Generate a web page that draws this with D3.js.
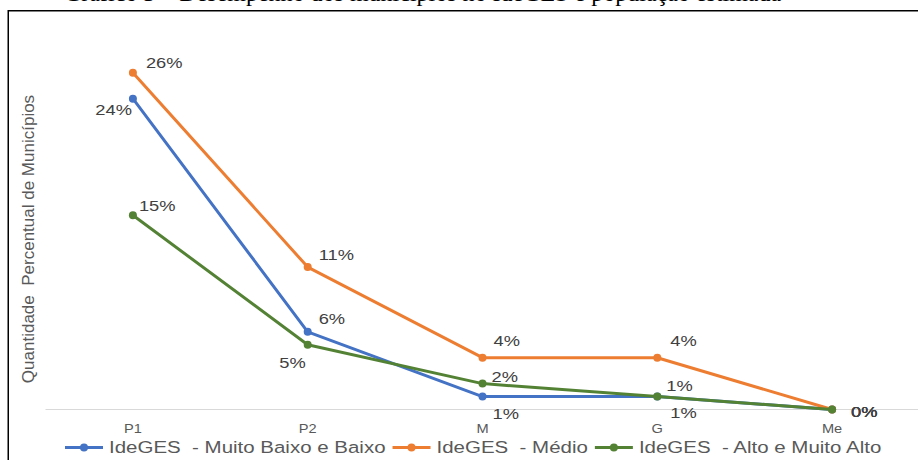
<!DOCTYPE html>
<html>
<head>
<meta charset="utf-8">
<script src="https://cdn.jsdelivr.net/npm/d3@7"></script>
<style>
  body { margin: 0; background: #fff; }
  svg { display: block; }
</style>
</head>
<body>
<svg id="chart" width="918" height="460"></svg>
<script>
// ---- data -------------------------------------------------------------
const categories = ["P1", "P2", "M", "G", "Me"];
const seriesNames = [
  "IdeGES  - Muito Baixo e Baixo",
  "IdeGES  - Médio",
  "IdeGES  - Alto e Muito Alto"
];
const muitoBaixoBaixo = [24, 6, 1, 1, 0];
const medio = [26, 11, 4, 4, 0];
const altoMuitoAlto = [15, 5, 2, 1, 0];
const yDomain = [0, 30];
const titleText = "Gráfico 3 – Desempenho dos municípios no IdeGES e população estimada";
const yTitleText = "Quantidade  Percentual de Municípios";

// ---- style ------------------------------------------------------------
const colors = ["#4472C4", "#ED7D31", "#548235"];
const SX = 1.22;                 // horizontal stretch of the sans text
const sans = "'Liberation Sans', Arial, sans-serif";
// per-point label nudges: [dx, dy, anchor]
const labelNudges = [
  [[-1, 16, "end"], [11, -8, "start"], [10, 22, "start"], [13, 21, "start"], [19, 7, "start"]],
  [[13, -5, "start"], [11, -7, "start"], [11, -12, "start"], [13, -12, "start"], [19, 7, "start"]],
  [[6, -4, "start"], [-2, 23, "end"], [9, -2, "start"], [9, -6, "start"], [19, 7, "start"]]
];

const series = [muitoBaixoBaixo, medio, altoMuitoAlto].map((vals, i) => ({
  name: seriesNames[i],
  color: colors[i],
  points: vals.map((v, j) => ({ cat: categories[j], value: v, nudge: labelNudges[i][j] }))
}));

const svg = d3.select("#chart");

const x = d3.scalePoint().domain(categories).range([45.5, 919.5]).padding(0.5);
const y = d3.scaleLinear().domain(yDomain).range([409.5, 21]);

function stretchedText(g, px, py, str, size, fill, anchor) {
  return g.append("text")
    .attr("transform", `translate(${px},${py}) scale(${SX},1)`)
    .attr("text-anchor", anchor || "start")
    .style("font-family", sans)
    .style("font-size", size + "px")
    .style("white-space", "pre")
    .attr("fill", fill)
    .text(str);
}

// frame (top and left edges)
svg.append("line").attr("x1", 8).attr("x2", 918).attr("y1", 10.75).attr("y2", 10.75)
  .attr("stroke", "#000").attr("stroke-width", 1.5);
svg.append("line").attr("x1", 8.25).attr("x2", 8.25).attr("y1", 10).attr("y2", 460)
  .attr("stroke", "#000").attr("stroke-width", 1.5);

// title, mostly clipped above the frame
svg.append("text")
  .attr("x", 64).attr("y", 0.5)
  .style("font-family", "'Liberation Serif', 'Times New Roman', serif")
  .style("font-size", "24px")
  .attr("fill", "#000")
  .text(titleText);

// y-axis title
svg.append("text")
  .attr("transform", `translate(34,239) rotate(-90)`)
  .attr("text-anchor", "middle")
  .style("font-family", sans)
  .style("font-size", "17px")
  .style("white-space", "pre")
  .attr("fill", "#595959")
  .text(yTitleText);

// baseline
svg.append("line")
  .attr("x1", 45.5).attr("x2", 918)
  .attr("y1", y(0)).attr("y2", y(0))
  .attr("stroke", "#d9d9d9").attr("stroke-width", 1);

// category axis labels
const axisG = svg.append("g");
categories.forEach(c => stretchedText(axisG, x(c), 433, c, 12, "#595959", "middle"));

// lines and markers
const line = d3.line().x(d => x(d.cat)).y(d => y(d.value));
const marks = svg.append("g");
series.forEach(s => {
  marks.append("path")
    .datum(s.points)
    .attr("d", line)
    .attr("fill", "none")
    .attr("stroke", s.color)
    .attr("stroke-width", 3)
    .attr("stroke-linejoin", "round")
    .attr("stroke-linecap", "round");
  marks.selectAll(null)
    .data(s.points)
    .join("circle")
    .attr("cx", d => x(d.cat))
    .attr("cy", d => y(d.value))
    .attr("r", 4)
    .attr("fill", s.color);
});

// value labels
const labelsG = svg.append("g");
series.forEach(s => {
  s.points.forEach(d => {
    const [dx, dy, anchor] = d.nudge;
    stretchedText(labelsG, x(d.cat) + dx, y(d.value) + dy,
      Math.round(d.value) + "%", 15, "#404040", anchor);
  });
});

// legend
const legendG = svg.append("g");
let lx = 65;
const ly = 447.5;
series.forEach(s => {
  legendG.append("line")
    .attr("x1", lx).attr("x2", lx + 38)
    .attr("y1", ly).attr("y2", ly)
    .attr("stroke", s.color).attr("stroke-width", 3);
  legendG.append("circle")
    .attr("cx", lx + 19).attr("cy", ly).attr("r", 4)
    .attr("fill", s.color);
  const t = stretchedText(legendG, lx + 44, 453, s.name, 16.8, "#595959", "start");
  const w = t.node().getComputedTextLength() * SX;
  lx += 44 + w + 7;
});
</script>
</body>
</html>
